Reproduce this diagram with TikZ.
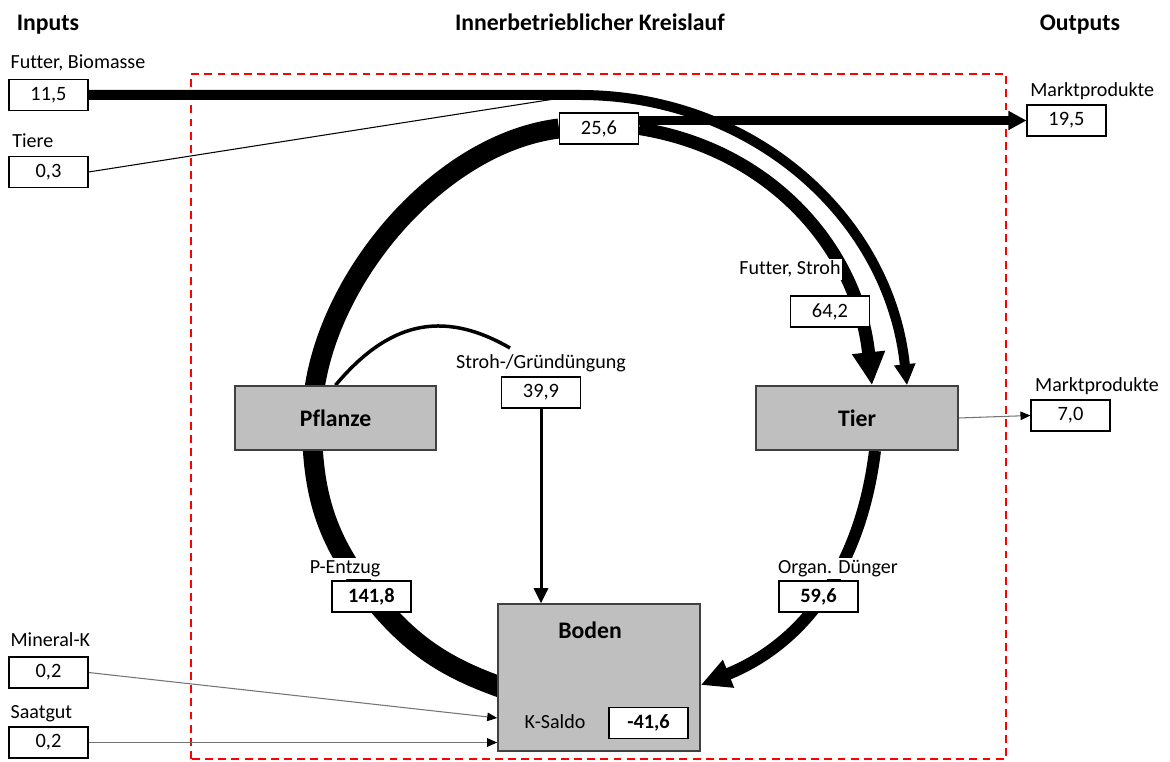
\documentclass[tikz,border=0pt]{standalone}
\usepackage{fontspec}
\setmainfont{Carlito}[Ligatures=NoCommon]
\usetikzlibrary{arrows.meta,positioning,backgrounds}

\tikzset{
  wert/.style={draw=black, fill=white, line width=0.6pt, minimum width=1.58cm, minimum height=0.62cm, inner sep=0pt, font=\fontsize{11.6}{13}\selectfont},
  wertb/.style={wert, font=\fontsize{11.6}{13}\selectfont\bfseries},
  lbl/.style={fill=white, inner xsep=1pt, inner ysep=1pt, text height=8pt, text depth=2.2pt, font=\fontsize{11.4}{13}\selectfont},
  bereich/.style={draw=black!75, fill=black!25, line width=0.9pt, font=\fontsize{13.5}{16}\selectfont\bfseries},
  titel/.style={font=\fontsize{13.5}{16}\selectfont\bfseries},
  duenn/.style={line width=0.6pt, -{Triangle[length=0.2cm, width=0.17cm, color=black]}},
}

\begin{document}
\begin{tikzpicture}[x=0.02cm, y=0.02cm]
    \useasboundingbox (0,0) rectangle (1170,761);
    % Ueberschriften
    \node[titel] (TIn) at (48,736) {Inputs};
    \node[titel] (TKr) at (590,739) {Innerbetrieblicher Kreislauf};
    \node[titel] (TOut) at (1080,736) {Outputs};
    % Bereiche
    \node[bereich, minimum width=4.02cm, minimum height=1.28cm] (Pflanze) at (335.5,343) {Pflanze};
    \node[bereich, minimum width=4.04cm, minimum height=1.28cm] (Tier) at (857,343) {Tier};
    \node[bereich, minimum width=4.04cm, minimum height=2.94cm] (Boden) at (599,83.5) {};
    \node[titel] (BodenT) at (590,131) {Boden};
    \node[wertb] (KSal) at (648.5,38) {-41,6};
    \node[lbl, fill=none, left=0.42cm of KSal] (KSalT) {K-Saldo};
    % Inputs
    \node[wert] (InFut) at (48.5,666) {11,5};
    \node[wert] (InTie) at (48.5,589) {0,3};
    \node[wert] (InMin) at (48.5,88.5) {0,2};
    \node[wert] (InSaa) at (48.5,18.5) {0,2};
    \node[lbl, above right=2.4pt and 0pt of InFut.north west] {Futter, Biomasse};
    \node[lbl, above right=1.3pt and 1pt of InTie.north west] {Tiere};
    \node[lbl, above right=2.4pt and 0pt of InMin.north west] {Mineral-K};
    \node[lbl, above right=1.3pt and 0pt of InSaa.north west] {Saatgut};
    % Outputs
    \node[wert] (OutMa0) at (1066.5,640.5) {19,5};
    \node[wert] (OutMa1) at (1070.5,345.5) {7,0};
    \node[lbl, above right=1.3pt and 1pt of OutMa0.north west] {Marktprodukte};
    \node[lbl, above right=1.3pt and 1.5pt of OutMa1.north west] {Marktprodukte};
    % Kreislauf
    \node[wert] (Kreis) at (599,632.5) {25,6};
    \node[wert] (FutStr) at (830,449.5) {64,2};
    \node[wert] (Stroh) at (541,368.5) {39,9};
    \node[wertb] (PEnt) at (371.5,164.5) {141,8};
    \node[wertb] (OrgD) at (818.5,164.5) {59,6};
    \node[lbl, above=8.6pt of FutStr, xshift=-0.8cm] {Futter, Stroh};
    \node[lbl, above=1.3pt of Stroh] {Stroh-/Gründüngung};
    \node[lbl, above=0.4pt of PEnt, xshift=-0.53cm] {P-Entzug};
    \node[lbl, above=0.4pt of OrgD, xshift=0.39cm] {Organ. Dünger};
    \coordinate (Zus) at (580,666);
    \coordinate (StrE) at (510,413);
    \coordinate (Lk) at (312,340);

    \begin{scope}[on background layer]
        \draw[red, line width=1.1pt, dash pattern=on 4.5pt off 3pt] (191,2) rectangle (1006,687);
        \draw[line width=0.42cm] ([xshift=0.2cm, yshift=-0.24cm]Boden.west) to[out=161, in=-51] (PEnt.center);
        \draw[line width=0.4cm] (PEnt.center) to[out=129, in=-90] (Lk) to[out=90, in=-173, looseness=0.85] (Kreis.west);
        \draw[line width=0.26cm, -{Triangle[length=0.66cm, width=0.62cm]}] (Kreis.east) to[out=-9, in=96] ([xshift=0.3cm]Tier.north);
        \draw[line width=0.2cm, -{Triangle[length=0.42cm, width=0.4cm]}] (InFut.east) -- (Zus) to[out=0, in=96] ([xshift=1cm]Tier.north);
        \draw[line width=0.17cm, -{Triangle[length=0.36cm, width=0.36cm]}] (Kreis.east |- OutMa0) -- (OutMa0.west);
        \draw[line width=0.24cm, -{Triangle[length=0.6cm, width=0.56cm]}] ([xshift=0.36cm]Tier.south) to[out=-97, in=22] ([yshift=-0.15cm]Boden.east);
        \draw[line width=0.07cm] (Pflanze.north) to[out=50, in=150, looseness=1.15] (StrE);
        \draw[line width=0.06cm, -{Triangle[length=0.3cm, width=0.28cm]}] (Stroh.south) -- (Stroh.south |- Boden.north);
        \draw[line width=0.6pt] (InTie.east) -- (Zus);
        \draw[duenn, black!55] (InMin.east) -- ([yshift=-0.81cm]Boden.west);
        \draw[duenn, black!55] (InSaa.east) -- (InSaa.east -| Boden.west);
        \draw[duenn, black!55] (Tier.east) -- (OutMa1.west);
    \end{scope}
\end{tikzpicture}
\end{document}
